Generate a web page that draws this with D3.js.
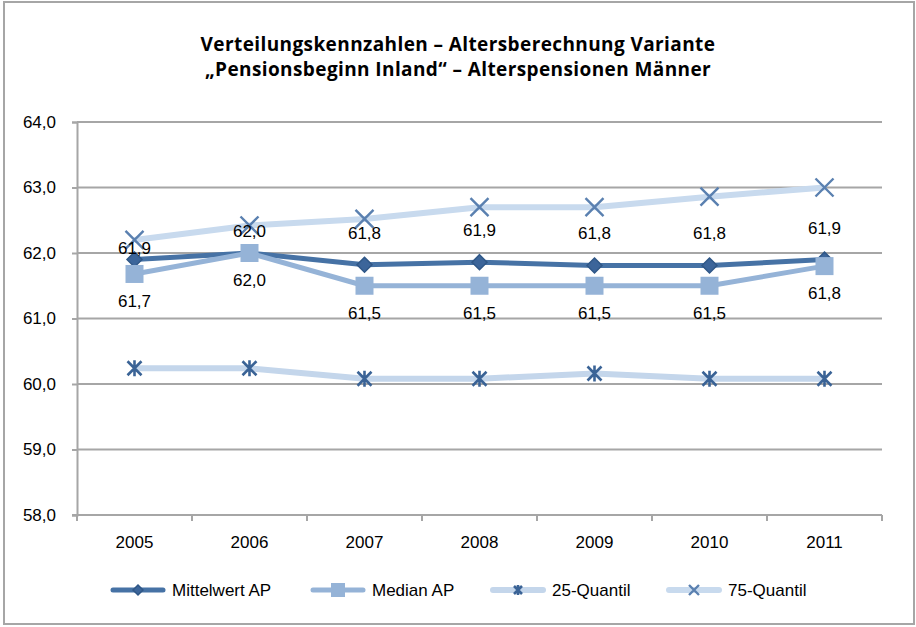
<!DOCTYPE html>
<html>
<head>
<meta charset="utf-8">
<script src="https://cdn.jsdelivr.net/npm/d3@7"></script>
<style>
  html, body { margin: 0; padding: 0; background: #fff; }
  svg { display: block; }
</style>
</head>
<body>
<svg id="chart" width="916" height="627"></svg>
<script>
// Years on the x axis
const years = ["2005", "2006", "2007", "2008", "2009", "2010", "2011"];

// Series values (age at retirement, years)
const mittelwert = [61.9, 62.0, 61.82, 61.86, 61.81, 61.81, 61.9];
const median     = [61.68, 62.0, 61.5, 61.5, 61.5, 61.5, 61.8];
const quantil25  = [60.24, 60.24, 60.08, 60.08, 60.16, 60.08, 60.08];
const quantil75  = [62.2, 62.42, 62.52, 62.7, 62.7, 62.86, 63.0];

// Value labels as printed
const mittelLabels = ["61,9", "62,0", "61,8", "61,9", "61,8", "61,8", "61,9"];
const medianLabels = ["61,7", "62,0", "61,5", "61,5", "61,5", "61,5", "61,8"];

// Y axis ticks
const yTicks = [58, 59, 60, 61, 62, 63, 64];

const seriesNames = ["Mittelwert AP", "Median AP", "25-Quantil", "75-Quantil"];

// Vertical nudge of the mean labels above their points (px)
const mittelLabelLift = [12, 22, 32, 32, 32, 32, 32];

const svg = d3.select("#chart");
const m = { left: 77, right: 882, top: 122, bottom: 515 };

// Outer frame
svg.append("rect")
  .attr("x", 4).attr("y", 2).attr("width", 910).attr("height", 622)
  .attr("fill", "#fff").attr("stroke", "#a6a6a6").attr("stroke-width", 2);

// Title
const title = svg.append("text")
  .attr("text-anchor", "middle")
  .attr("font-family", "'Open Sans', sans-serif")
  .attr("font-weight", 700)
  .attr("font-size", 19)
  .attr("letter-spacing", 0.4)
  .attr("fill", "#000");
title.append("tspan").attr("x", 458).attr("y", 51)
  .text("Verteilungskennzahlen – Altersberechnung Variante");
title.append("tspan").attr("x", 458).attr("y", 76)
  .text("„Pensionsbeginn Inland“ – Alterspensionen Männer");

const x = d3.scaleBand().domain(years).range([m.left, m.right]).paddingInner(0).paddingOuter(0);
const y = d3.scaleLinear().domain([58, 64]).range([m.bottom, m.top]);
const cx = d => x(d) + x.bandwidth() / 2;

const gridColor = "#a6a6a6";
const labelFont = "'Liberation Sans', Arial, sans-serif";
const fs = 17;

// Horizontal gridlines
svg.append("g").selectAll("line").data(yTicks.filter(t => t !== 58)).join("line")
  .attr("x1", m.left).attr("x2", m.right)
  .attr("y1", d => y(d)).attr("y2", d => y(d))
  .attr("stroke", gridColor).attr("stroke-width", 2);

// Y axis
const yAxis = svg.append("g")
  .attr("transform", `translate(${m.left},0)`)
  .call(d3.axisLeft(y).tickValues(yTicks).tickSize(5).tickPadding(16)
    .tickFormat(d => d3.format(".1f")(d).replace(".", ",")));
yAxis.select(".domain").attr("stroke", gridColor).attr("stroke-width", 2);
yAxis.selectAll(".tick line").attr("stroke", gridColor).attr("stroke-width", 2);
yAxis.selectAll(".tick text")
  .attr("font-family", labelFont)
  .attr("font-size", fs).attr("fill", "#000");

// X axis with ticks at category boundaries
const xAxis = svg.append("g").attr("transform", `translate(0,${m.bottom})`);
xAxis.append("line")
  .attr("x1", m.left - 5).attr("x2", m.right)
  .attr("stroke", gridColor).attr("stroke-width", 2);
const bounds = years.map(d => x(d)).concat([m.right]);
xAxis.selectAll("line.tk").data(bounds).join("line").attr("class", "tk")
  .attr("x1", d => d).attr("x2", d => d).attr("y1", 0).attr("y2", 6)
  .attr("stroke", gridColor).attr("stroke-width", 2);
xAxis.selectAll("text").data(years).join("text")
  .attr("x", d => cx(d)).attr("y", 33)
  .attr("text-anchor", "middle")
  .attr("font-family", labelFont)
  .attr("font-size", fs).attr("fill", "#000")
  .text(d => d);

const line = d3.line().x((d, i) => cx(years[i])).y(d => y(d));

const colors = {
  mittel: "#4672a5", mittelMk: "#3c659a",
  median: "#95b3d7",
  q25: "#c4d6eb", q25Mk: "#3a6396",
  q75: "#c8daee", q75Mk: "#5a80b0"
};

// Marker shapes
function diamond(g, s, fill, stroke) {
  g.append("path").attr("d", `M0,${-s}L${s},0L0,${s}L${-s},0Z`)
    .attr("fill", fill).attr("stroke", stroke).attr("stroke-width", 1.5);
}
function square(g, s, fill) {
  g.append("rect").attr("x", -s).attr("y", -s).attr("width", 2 * s).attr("height", 2 * s)
    .attr("fill", fill);
}
function star(g, s, stroke) {
  g.append("path").attr("d", `M${-s},${-s}L${s},${s}M${-s},${s}L${s},${-s}M0,${-s - 1}L0,${s + 1}`)
    .attr("stroke", stroke).attr("stroke-width", 2.6).attr("fill", "none");
}
function cross(g, s, stroke) {
  g.append("path").attr("d", `M${-s},${-s}L${s},${s}M${-s},${s}L${s},${-s}`)
    .attr("stroke", stroke).attr("stroke-width", 2.4).attr("fill", "none");
}

const series = [
  { key: "mittel", values: mittelwert, color: colors.mittel, width: 5,
    mark: g => diamond(g, 7.5, colors.mittelMk, "#2f5787") },
  { key: "median", values: median, color: colors.median, width: 5,
    mark: g => square(g, 9, colors.median) },
  { key: "q25", values: quantil25, color: colors.q25, width: 6,
    mark: g => star(g, 7, colors.q25Mk) },
  { key: "q75", values: quantil75, color: colors.q75, width: 6,
    mark: g => cross(g, 9, colors.q75Mk) }
];

const plot = svg.append("g");
series.forEach(s => {
  plot.append("path").datum(s.values)
    .attr("d", line).attr("fill", "none")
    .attr("stroke", s.color).attr("stroke-width", s.width)
    .attr("stroke-linejoin", "round");
  s.values.forEach((v, i) => {
    const g = plot.append("g").attr("transform", `translate(${cx(years[i])},${y(v)})`);
    s.mark(g);
  });
});

// Value labels
svg.append("g").selectAll("text").data(mittelwert).join("text")
  .attr("x", (d, i) => cx(years[i]))
  .attr("y", (d, i) => y(d) - mittelLabelLift[i] + 6)
  .attr("text-anchor", "middle")
  .attr("font-family", labelFont).attr("font-size", fs).attr("fill", "#000")
  .text((d, i) => mittelLabels[i]);
svg.append("g").selectAll("text").data(median).join("text")
  .attr("x", (d, i) => cx(years[i]))
  .attr("y", d => y(d) + 27 + 6)
  .attr("text-anchor", "middle")
  .attr("font-family", labelFont).attr("font-size", fs).attr("fill", "#000")
  .text((d, i) => medianLabels[i]);

// Legend
const legendY = 590;
const legendStarts = [113, 313, 493, 669];
const legendMarks = {
  mittel: g => diamond(g, 5, colors.mittelMk, "#2f5787"),
  median: g => square(g, 7, colors.median),
  q25: g => star(g, 4, colors.q25Mk),
  q75: g => cross(g, 5, colors.q75Mk)
};
series.forEach((s, k) => {
  const g = svg.append("g").attr("transform", `translate(${legendStarts[k]},${legendY})`);
  g.append("line").attr("x1", 0).attr("x2", 50)
    .attr("stroke", s.color).attr("stroke-width", s.width).attr("stroke-linecap", "round");
  const mk = g.append("g").attr("transform", "translate(25,0)");
  legendMarks[s.key](mk);
  g.append("text").attr("x", 59).attr("y", 6)
    .attr("font-family", labelFont).attr("font-size", fs).attr("fill", "#000")
    .text(seriesNames[k]);
});
</script>
</body>
</html>
